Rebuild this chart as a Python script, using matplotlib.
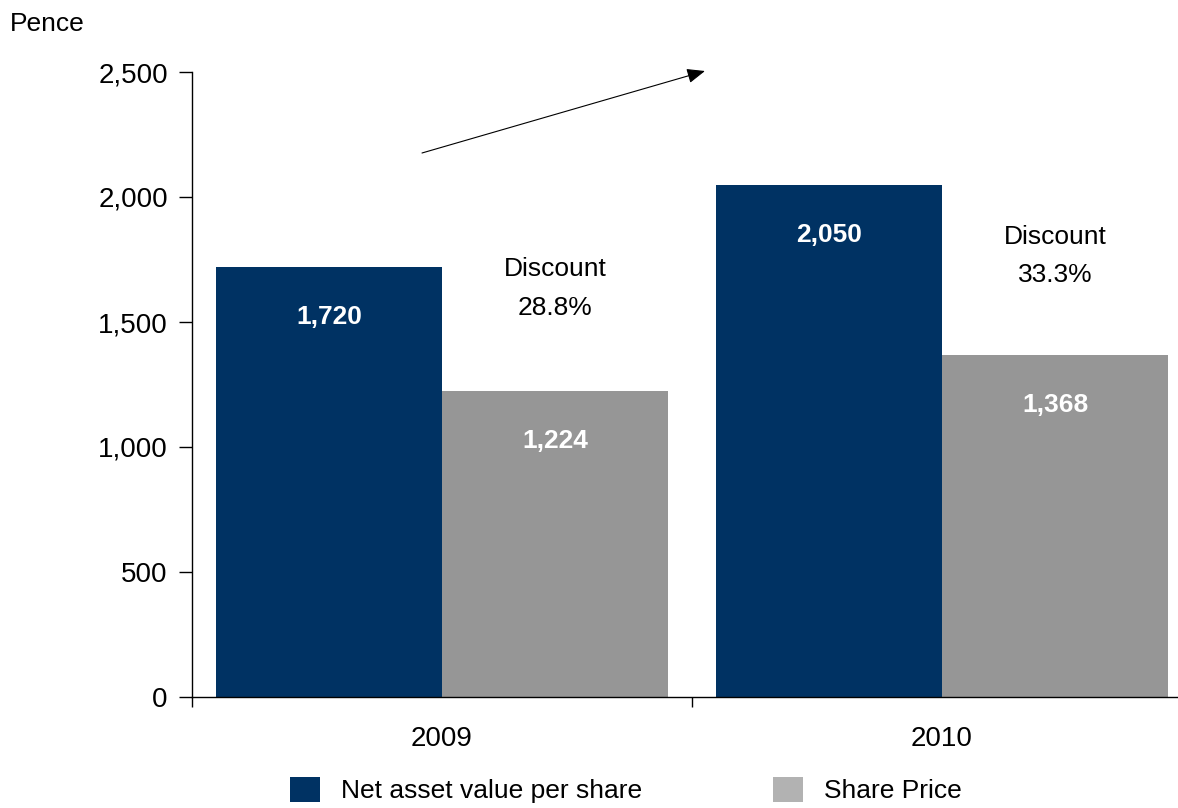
import matplotlib
matplotlib.use("Agg")
import numpy as np
import matplotlib.pyplot as plt
from matplotlib.patches import Patch
from matplotlib.ticker import FuncFormatter

# --- data -------------------------------------------------------------
years = ["2009", "2010"]
nav_per_share = [1720, 2050]
share_price = [1224, 1368]
series_names = ["Net asset value per share", "Share Price"]
y_ticks = [0, 500, 1000, 1500, 2000, 2500]
# vertical anchor (pence) of the "Discount" caption above each price bar
discount_caption_y = [1712, 1842]

NAVY = "#003263"
GREY = "#969696"
LEGEND_GREY = "#b2b2b2"

plt.rcParams["font.family"] = ["Liberation Sans", "DejaVu Sans"]
FS = 19
TICK_FS = 20

W, H = 1178, 808
fig = plt.figure(figsize=(W / 100, H / 100), dpi=100)
ax = fig.add_axes([192 / W, (H - 697) / H, 1000 / W, 625 / H])

x = np.arange(len(years))
bw = 0.452
b1 = ax.bar(x - bw / 2, nav_per_share, bw, color=NAVY, linewidth=0)
b2 = ax.bar(x + bw / 2, share_price, bw, color=GREY, linewidth=0)

ax.set_xlim(-0.5, 1.5)
ax.set_ylim(0, 2500)

# axes styling
for side in ("top", "right"):
    ax.spines[side].set_visible(False)
for side in ("left", "bottom"):
    ax.spines[side].set_linewidth(1.0)
    ax.spines[side].set_color("black")

ax.set_yticks(y_ticks)
ax.yaxis.set_major_formatter(FuncFormatter(lambda v, p: f"{int(v):,}"))
ax.tick_params(axis="y", length=9.4, width=1.0, pad=8, labelsize=TICK_FS, direction="out")

ax.set_xticks(x)
ax.set_xticklabels(years)
ax.set_xticks([-0.5, 0.5, 1.5], minor=True)
ax.tick_params(axis="x", which="major", length=0, pad=21, labelsize=TICK_FS)
ax.tick_params(axis="x", which="minor", length=7.2, width=1.0, direction="out")

# value labels inside the bars
for bars, vals in ((b1, nav_per_share), (b2, share_price)):
    for rect, v in zip(bars, vals):
        ax.annotate(f"{v:,}", xy=(rect.get_x() + rect.get_width() / 2, v),
                    xytext=(0, -36), textcoords="offset points",
                    ha="center", va="center", color="white",
                    fontsize=FS, fontweight="bold")

# discount captions above the share price bars
for i, (n, p) in enumerate(zip(nav_per_share, share_price)):
    disc = (1 - p / n) * 100
    xc = x[i] + bw / 2
    ax.annotate("Discount", xy=(xc, discount_caption_y[i]), xytext=(0, 0),
                textcoords="offset points", ha="center", va="center", fontsize=FS)
    ax.annotate(f"{disc:.1f}%", xy=(xc, discount_caption_y[i]), xytext=(0, -28),
                textcoords="offset points", ha="center", va="center", fontsize=FS)

# growth arrow
ax.annotate("", xy=(0.526, 2504), xytext=(-0.04, 2176),
            arrowprops=dict(arrowstyle="-|>,head_length=1.1,head_width=0.45",
                            color="black", lw=0.8, shrinkA=0, shrinkB=0),
            annotation_clip=False)

fig.text(10 / W, 1 - 24 / H, "Pence", fontsize=FS, ha="left", va="center")

handles = [Patch(facecolor=NAVY, edgecolor="none"),
           Patch(facecolor=LEGEND_GREY, edgecolor="none")]
fig.legend(handles, series_names, loc="upper left",
           bbox_to_anchor=(290 / W, 1 - 777 / H), ncol=2, frameon=False,
           fontsize=FS, handlelength=1.14, handleheight=1.06,
           handletextpad=0.8, columnspacing=4.96, borderpad=0,
           borderaxespad=0)

fig.savefig("out.png", dpi=100)
